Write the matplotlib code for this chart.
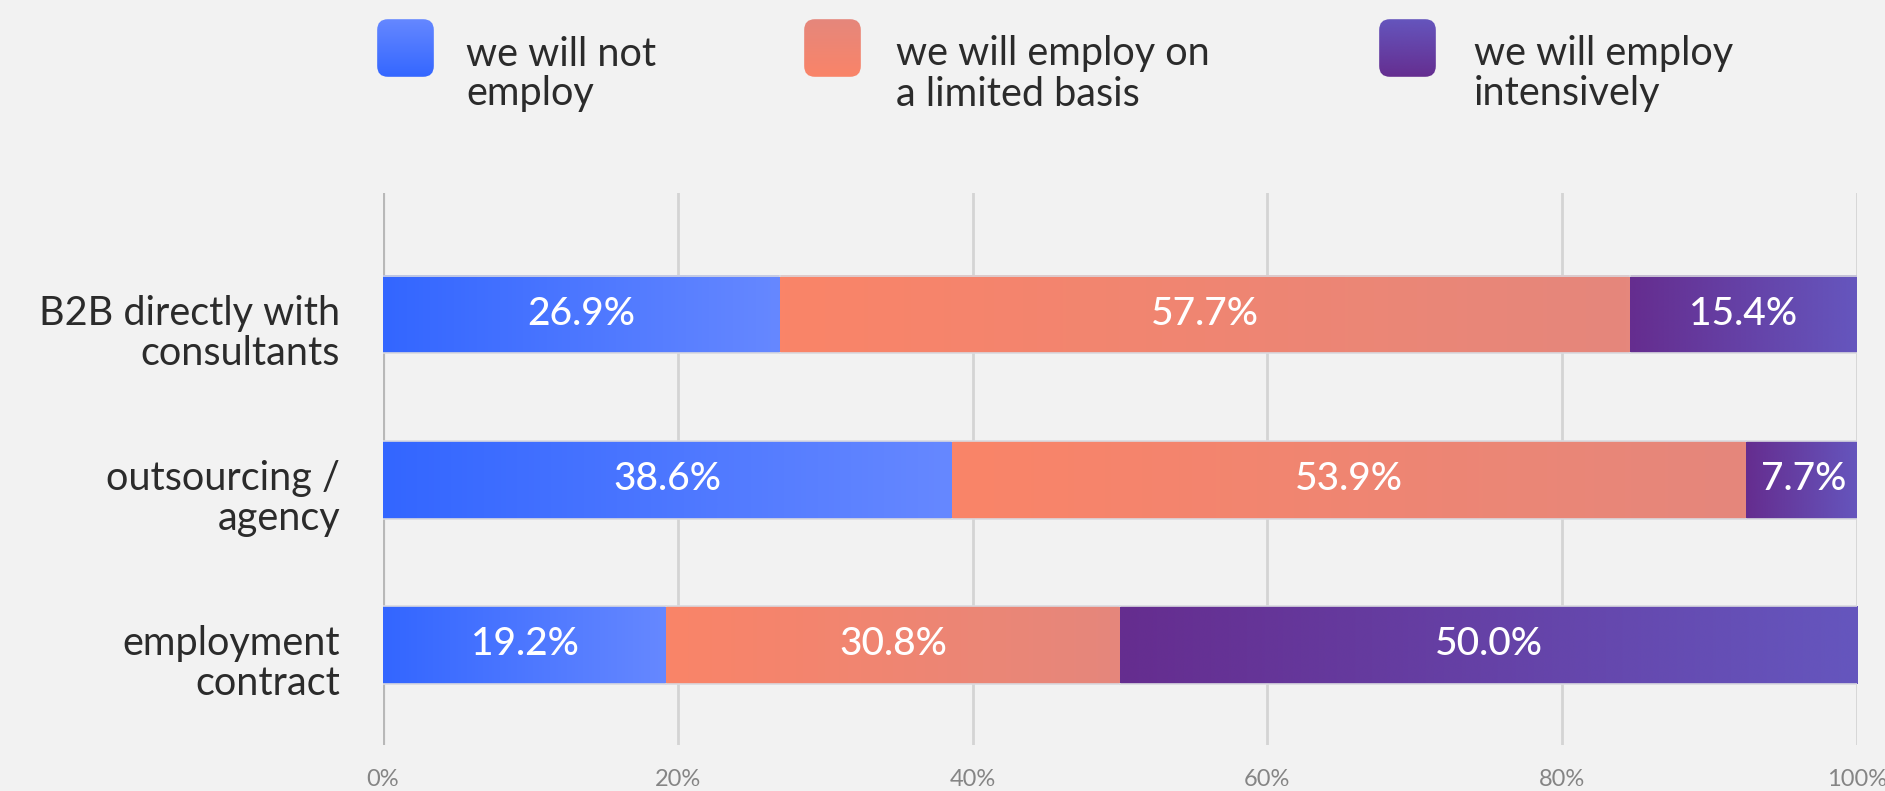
import numpy as np
import matplotlib
matplotlib.use("Agg")
import matplotlib.pyplot as plt
from matplotlib.colors import LinearSegmentedColormap
from matplotlib.patches import FancyBboxPatch
from matplotlib.transforms import ScaledTranslation

categories = ["B2B directly with\nconsultants", "outsourcing /\nagency", "employment\ncontract"]
series_names = ["we will not\nemploy", "we will employ on\na limited basis", "we will employ\nintensively"]
not_employ = [26.9, 38.6, 19.2]
limited = [57.7, 53.9, 30.8]
intensive = [15.4, 7.7, 50.0]
tick_values = [0, 20, 40, 60, 80, 100]
tick_labels = ["0%", "20%", "40%", "60%", "80%", "100%"]

# gradient ends (start -> end) for each series
gradients = [("#3366ff", "#6688ff"), ("#fa8468", "#e5877c"), ("#652d8f", "#6556be")]

BG = "#f2f2f2"
FONT = "Lato"
plt.rcParams["font.family"] = [FONT, "DejaVu Sans"]

W, H = 1885, 791
fig = plt.figure(figsize=(W / 100, H / 100), dpi=100, facecolor=BG)
ax = fig.add_axes([383 / W, 1 - 745 / H, (1857 - 383) / W, (745 - 193) / H])
ax.set_facecolor(BG)

y = np.arange(len(categories))
series = [not_employ, limited, intensive]
left = np.zeros(len(categories))
grad = np.linspace(0, 1, 256).reshape(1, -1)
for vals, (c0, c1) in zip(series, gradients):
    cmap = LinearSegmentedColormap.from_list("g", [c0, c1])
    bars = ax.barh(y, vals, left=left, height=0.467, color=c0, edgecolor="none", zorder=2)
    for bar, v in zip(bars, vals):
        x0, y0 = bar.get_x(), bar.get_y()
        w, h = bar.get_width(), bar.get_height()
        im = ax.imshow(grad, cmap=cmap, aspect="auto", extent=(x0, x0 + w, y0 + h, y0),
                       zorder=3, interpolation="bicubic")
        im.set_clip_path(bar)
        im.set_clip_box(ax.bbox)
        ax.text(x0 + w / 2, y0 + h / 2, f"{v:.1f}%", ha="center", va="center",
                color="white", fontsize=28, fontweight="medium", zorder=5)
        # thin light edge along top and bottom of each segment
        ax.plot([x0, x0 + w], [y0, y0], color="#d9d9df", lw=1.2, zorder=4)
        ax.plot([x0, x0 + w], [y0 + h, y0 + h], color="#d9d9df", lw=1.2, zorder=4)
    left = left + np.array(vals)

ax.set_xlim(0, 100)
ax.set_ylim(2.606, -0.739)
ax.set_xticks(tick_values)
ax.set_xticklabels(tick_labels, color="#858585", fontsize=17)
ax.set_yticks(y)
ax.set_yticklabels(categories, fontsize=28.5, color="#2b2b2b", linespacing=1.1, ha="right")
ax.tick_params(axis="both", length=0)
ax.tick_params(axis="x", pad=17)
ax.tick_params(axis="y", pad=31)
# category labels sit slightly below the bar centres
shift = ScaledTranslation(0, -0.14, fig.dpi_scale_trans)
for lbl in ax.get_yticklabels():
    lbl.set_transform(lbl.get_transform() + shift)
for s in ax.spines.values():
    s.set_visible(False)
ax.grid(axis="x", color="#d4d4d4", lw=2, zorder=0)
ax.axvline(0, color="#b8b8b8", lw=3, zorder=1)
ax.set_axisbelow(True)

# legend with rounded gradient swatches
vgrad = np.linspace(1, 0, 256).reshape(-1, 1)
swatch_x = [376, 803, 1378]
text_x = [466, 896, 1474]
for sx, tx, name, (c0, c1) in zip(swatch_x, text_x, series_names, gradients):
    sax = fig.add_axes([sx / W, 1 - 78 / H, 59 / W, 60 / H])
    sax.set_axis_off()
    cmap = LinearSegmentedColormap.from_list("g", [c0, c1])
    im = sax.imshow(vgrad, cmap=cmap, aspect="auto", extent=(0, 1, 0, 1),
                    interpolation="bicubic")
    box = FancyBboxPatch((0.02, 0.02), 0.96, 0.96, boxstyle="round,pad=0,rounding_size=0.18",
                         transform=sax.transAxes, facecolor="none", edgecolor="none")
    sax.add_patch(box)
    im.set_clip_path(box)
    sax.set_xlim(0, 1)
    sax.set_ylim(0, 1)
    fig.text(tx / W, 1 - 74 / H, name, ha="left", va="center", fontsize=28.5,
             color="#2b2b2b", linespacing=1.1)

fig.savefig("out.png", dpi=100, facecolor=BG)
